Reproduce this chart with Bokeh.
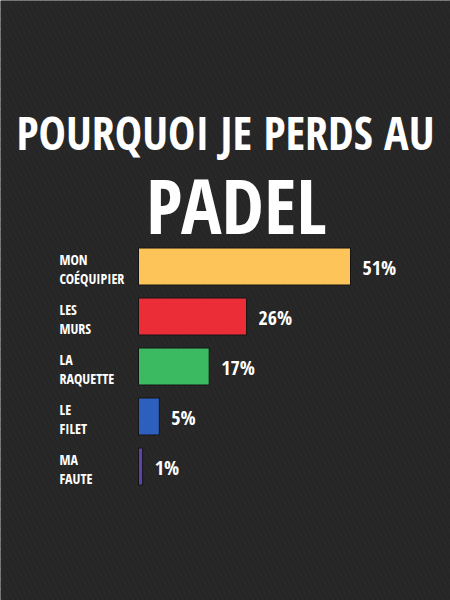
import numpy as np
from bokeh.plotting import figure
from bokeh.models import ColumnDataSource, Label, Range1d, BoxAnnotation
from bokeh.core.properties import value
from bokeh.embed import file_html
from bokeh.resources import INLINE

# ---- data ----
title_line1 = "POURQUOI JE PERDS AU"
title_line2 = "PADEL"
categories = ["MON\nCOÉQUIPIER", "LES\nMURS", "LA\nRAQUETTE", "LE\nFILET", "MA\nFAUTE"]
percents = [51, 26, 17, 5, 1]
pct_labels = ["51%", "26%", "17%", "5%", "1%"]
bar_colors = ["#FDC459", "#EA2D36", "#3CBA62", "#2D5FBF", "#5C43A7"]

FONT = "Open Sans Condensed"
W, H = 450, 600

src = ColumnDataSource(dict(
    y=np.arange(len(categories)),
    pct=percents,
    cat=categories,
    lab=pct_labels,
    color=bar_colors,
))

p = figure(width=W, height=H, output_backend="svg", toolbar_location=None,
           min_border=0, x_range=Range1d(-33.2, 75.05), y_range=Range1d(6.68, -5.32))
p.axis.visible = False
p.grid.visible = False
p.outline_line_color = None
p.background_fill_color = "#1d1d1d"
p.border_fill_color = "#1d1d1d"

# carbon-like diagonal stripes
p.add_layout(BoxAnnotation(fill_alpha=0, line_alpha=0, hatch_pattern="left_diagonal_line",
                           hatch_color="#282828", hatch_scale=10, hatch_weight=4,
                           level="underlay"))

p.hbar(y="y", left=0, right="pct", height=0.74, source=src,
       fill_color="color", line_color="#141414", line_width=1)

p.text(x=0, y="y", text="cat", source=src, x_offset=-79, y_offset=2,
       text_font=value(FONT), text_font_style="bold", text_font_size="14px",
       text_line_height=1.0, text_color="white", text_align="left", text_baseline="middle")

p.text(x="pct", y="y", text="lab", source=src, x_offset=12, y_offset=1,
       text_font=value(FONT), text_font_style="bold", text_font_size="20px",
       text_color="white", text_align="left", text_baseline="middle")

p.add_layout(Label(x=W / 2, y=469, x_units="screen", y_units="screen",
                   text=title_line1, text_font=FONT, text_font_style="bold",
                   text_font_size="46px", text_color="white", text_align="center",
                   text_baseline="alphabetic"))
p.add_layout(Label(x=236, y=396, x_units="screen", y_units="screen",
                   text=title_line2, text_font=FONT, text_font_style="bold",
                   text_font_size="76px", text_color="white", text_align="center",
                   text_baseline="alphabetic"))

open("out.html", "w").write(file_html(p, INLINE))
